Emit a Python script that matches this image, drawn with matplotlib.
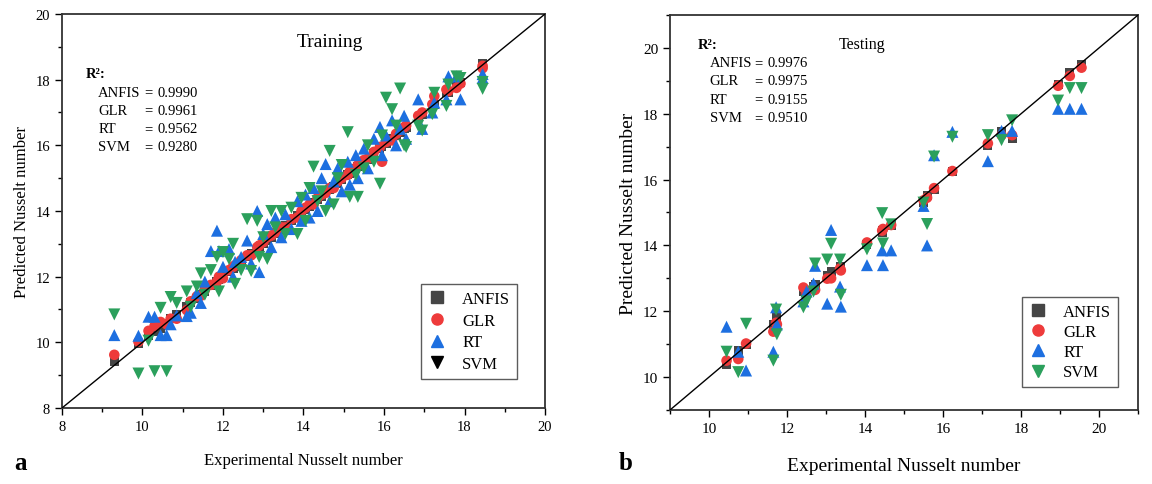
import matplotlib
matplotlib.use("Agg")
import matplotlib.pyplot as plt
from matplotlib.ticker import MultipleLocator
from matplotlib.lines import Line2D

plt.rcParams["font.family"] = ["Liberation Serif", "DejaVu Serif"]

# ---- training data (experimental vs predicted) ----
train_exp = [9.3, 9.9, 10.15, 10.3, 10.45, 10.6, 10.7, 10.85, 11.1, 11.2,
             11.35, 11.45, 11.55, 11.7, 11.85, 11.9, 12.0, 12.15, 12.25, 12.3,
             12.45, 12.6, 12.7, 12.85, 12.9, 13.0, 13.1, 13.2, 13.3, 13.45,
             13.55, 13.7, 13.85, 13.95, 14.05, 14.15, 14.25, 14.35, 14.45, 14.55,
             14.65, 14.75, 14.85, 14.95, 15.1, 15.15, 15.3, 15.35, 15.5, 15.6,
             15.75, 15.9, 15.95, 16.05, 16.2, 16.3, 16.4, 16.5, 16.55, 16.85,
             16.95, 17.2, 17.25, 17.55, 17.6, 17.8, 17.9, 18.45, 18.45]
train_anfis = [9.42, 9.97, 10.2, 10.32, 10.42, 10.58, 10.72, 10.86, 11.1, 11.22,
               11.35, 11.45, 11.55, 11.72, 11.85, 11.9, 12.0, 12.15, 12.25, 12.3,
               12.45, 12.6, 12.7, 12.85, 12.92, 13.0, 13.1, 13.2, 13.3, 13.45,
               13.55, 13.7, 13.85, 13.95, 14.05, 14.15, 14.25, 14.35, 14.45, 14.55,
               14.65, 14.75, 14.85, 14.95, 15.1, 15.15, 15.3, 15.35, 15.5, 15.58,
               15.75, 15.9, 15.95, 16.05, 16.2, 16.3, 16.4, 16.5, 16.55, 16.85,
               16.95, 17.2, 17.25, 17.6, 17.6, 17.8, 17.9, 18.48, 18.45]
train_glr = [9.62, 10.02, 10.35, 10.5, 10.62, 10.55, 10.72, 10.72, 10.98, 11.25,
             11.4, 11.42, 11.6, 11.75, 11.85, 12.0, 11.95, 12.2, 12.3, 12.35,
             12.5, 12.65, 12.65, 12.9, 12.95, 13.05, 13.2, 13.25, 13.35, 13.5,
             13.5, 13.75, 13.8, 14.0, 14.1, 14.2, 14.2, 14.4, 14.5, 14.55,
             14.7, 14.7, 14.9, 15.0, 15.1, 15.2, 15.3, 15.4, 15.55, 15.6,
             15.8, 15.95, 15.5, 16.1, 16.15, 16.35, 16.45, 16.55, 16.6, 16.9,
             17.0, 17.25, 17.5, 17.7, 17.65, 17.75, 17.88, 18.42, 18.35]
train_rt = [10.22, 10.2, 10.78, 10.78, 10.22, 10.22, 10.55, 10.82, 10.8, 10.9,
            11.5, 11.2, 11.85, 12.78, 13.4, 12.78, 12.3, 12.84, 12.0, 12.45,
            12.6, 13.1, 12.4, 14.0, 12.14, 13.3, 13.6, 12.9, 13.8, 13.2,
            13.9, 13.45, 14.3, 13.7, 14.5, 13.8, 14.7, 14.0, 15.0, 15.43,
            14.3, 14.9, 15.3, 14.6, 15.5, 14.8, 15.7, 15.0, 15.9, 15.3,
            16.2, 16.56, 15.7, 16.3, 16.76, 16.0, 16.5, 16.9, 16.2, 17.4,
            16.5, 17.0, 17.3, 17.4, 18.1, 18.1, 17.4, 18.17, 18.05]
train_svm = [10.85, 9.05, 10.05, 9.12, 11.05, 9.12, 11.38, 11.2, 11.55, 11.08,
             11.7, 12.1, 11.45, 12.2, 12.6, 11.55, 12.75, 12.54, 13.0, 11.78,
             12.2, 13.75, 12.17, 13.7, 12.6, 13.2, 12.54, 14.0, 13.5, 14.0,
             13.3, 14.1, 13.3, 14.4, 13.7, 14.7, 15.35, 14.3, 14.6, 14.0,
             15.83, 14.2, 15.0, 15.4, 16.4, 14.43, 15.1, 14.43, 15.3, 16.0,
             15.5, 14.83, 16.3, 17.45, 17.1, 16.6, 17.73, 16.0, 15.95, 16.6,
             16.45, 16.95, 17.6, 17.2, 17.85, 18.1, 18.05, 17.93, 17.72]

# ---- testing data ----
test_exp = [10.45, 10.75, 10.95, 11.65, 11.72, 11.74, 12.42, 12.5, 12.68, 12.72,
            13.03, 13.13, 13.38, 13.36, 14.05, 14.46, 14.44, 14.67, 15.5, 15.59,
            15.77, 16.24, 17.15, 17.5, 17.77, 18.95, 19.25, 19.55]
test_anfis = [10.37, 10.8, 11.0, 11.6, 11.72, 11.8, 12.6, 12.62, 12.75, 12.8,
              13.1, 13.2, 13.3, 13.35, 14.02, 14.45, 14.4, 14.6, 15.3, 15.52,
              15.7, 16.25, 17.05, 17.45, 17.26, 18.9, 19.25, 19.5]
test_glr = [10.5, 10.55, 11.02, 11.38, 11.65, 11.6, 12.72, 12.55, 12.7, 12.65,
            12.99, 13.0, 13.24, 13.3, 14.09, 14.5, 14.45, 14.62, 15.37, 15.45,
            15.74, 16.26, 17.1, 17.35, 17.35, 18.85, 19.15, 19.4]
test_rt = [11.53, 10.77, 10.2, 10.77, 12.12, 11.6, 12.3, 12.6, 12.84, 13.38,
           12.23, 14.47, 12.14, 12.75, 13.4, 13.4, 13.85, 13.85, 15.2, 14.0,
           16.74, 17.45, 16.56, 17.48, 17.48, 18.15, 18.15, 18.15]
test_svm = [10.77, 10.15, 11.62, 10.5, 12.05, 11.3, 12.12, 12.3, 12.6, 13.45,
            13.57, 14.05, 12.5, 13.57, 13.88, 14.06, 14.98, 14.64, 15.3, 14.65,
            16.7, 17.3, 17.35, 17.2, 17.8, 18.4, 18.78, 18.78]

models = ["ANFIS", "GLR", "RT", "SVM"]
train_r2 = ["0.9990", "0.9961", "0.9562", "0.9280"]
test_r2 = ["0.9976", "0.9975", "0.9155", "0.9510"]

colors = {"ANFIS": "#454545", "GLR": "#ee3b3b", "RT": "#1d6fe0", "SVM": "#2ba05c"}
markers = {"ANFIS": "s", "GLR": "o", "RT": "^", "SVM": "v"}
sizes = {"ANFIS": 42, "GLR": 58, "RT": 75, "SVM": 75}


def panel(ax, exp, preds, lims, r2, title, title_pos, title_fs, r2_pos, fs,
          leg_anchor, svm_legend_color):
    for name, pred in zip(models, preds):
        ax.scatter(exp, pred, marker=markers[name], s=sizes[name],
                   color=colors[name], edgecolors="none", zorder=3)
    ax.plot(lims, lims, color="black", lw=1.0, zorder=4)
    ax.set_xlim(lims)
    ax.set_ylim(lims)
    ax.xaxis.set_major_locator(MultipleLocator(2))
    ax.xaxis.set_minor_locator(MultipleLocator(1))
    ax.yaxis.set_major_locator(MultipleLocator(2))
    ax.yaxis.set_minor_locator(MultipleLocator(1))
    ax.tick_params(which="both", direction="out", top=False, right=False)
    ax.tick_params(which="major", length=5, width=1.0, labelsize=fs["tick"])
    ax.tick_params(which="minor", length=3, width=1.0)
    for sp in ax.spines.values():
        sp.set_linewidth(1.3)
        sp.set_color("#333333")
    ax.set_xlabel("Experimental Nusselt number", fontsize=fs["label"], labelpad=fs["pad"])
    ax.set_ylabel("Predicted Nusselt number", fontsize=fs["label"], labelpad=4)
    ax.text(title_pos[0], title_pos[1], title, transform=ax.transAxes,
            fontsize=title_fs, ha="center", va="center")

    # R^2 block
    x0, y0, dy, xeq = r2_pos
    ax.text(x0, y0, "R²:", transform=ax.transAxes, fontsize=fs["r2"],
            fontweight="bold", va="center")
    for i, (name, val) in enumerate(zip(models, r2)):
        yy = y0 - dy * (i + 1)
        ax.text(x0 + 0.025, yy, name, transform=ax.transAxes, fontsize=fs["r2"], va="center")
        ax.text(x0 + xeq, yy, "=", transform=ax.transAxes, fontsize=fs["r2"], va="center")
        ax.text(x0 + xeq + 0.028, yy, val, transform=ax.transAxes, fontsize=fs["r2"], va="center")

    handles = []
    for name in models:
        c = colors[name]
        if name == "SVM":
            c = svm_legend_color
        handles.append(Line2D([], [], marker=markers[name], linestyle="none",
                              color=c, markersize=8))
    leg = ax.legend(handles, models, loc="lower right", bbox_to_anchor=leg_anchor,
                    borderaxespad=0, fontsize=fs["legend"], frameon=True,
                    fancybox=False, edgecolor="#333333", handletextpad=0.9,
                    borderpad=0.4, labelspacing=fs["lsp"], handlelength=1.2)
    leg.get_frame().set_linewidth(1.0)


fig = plt.figure(figsize=(11.52, 4.85), dpi=100)
ax1 = fig.add_axes([0.0538, 0.1567, 0.4193, 0.8124])
ax2 = fig.add_axes([0.5816, 0.1526, 0.4063, 0.8144])

panel(ax1, train_exp, [train_anfis, train_glr, train_rt, train_svm], (8, 20),
      train_r2, "Training", (0.555, 0.93), 14, (0.05, 0.848, 0.046, 0.12),
      {"tick": 10.5, "label": 12, "r2": 10.5, "legend": 12, "pad": 14, "lsp": 0.35},
      (0.942, 0.074), "black")
panel(ax2, test_exp, [test_anfis, test_glr, test_rt, test_svm], (9, 21),
      test_r2, "Testing", (0.41, 0.927), 11.5, (0.06, 0.925, 0.046, 0.12),
      {"tick": 11, "label": 14, "r2": 10.5, "legend": 12, "pad": 16, "lsp": 0.25},
      (0.957, 0.058), colors["SVM"])

fig.text(0.012, 0.03, "a", fontsize=18, fontweight="bold")
fig.text(0.537, 0.03, "b", fontsize=18, fontweight="bold")

fig.savefig("out.png", dpi=100)
